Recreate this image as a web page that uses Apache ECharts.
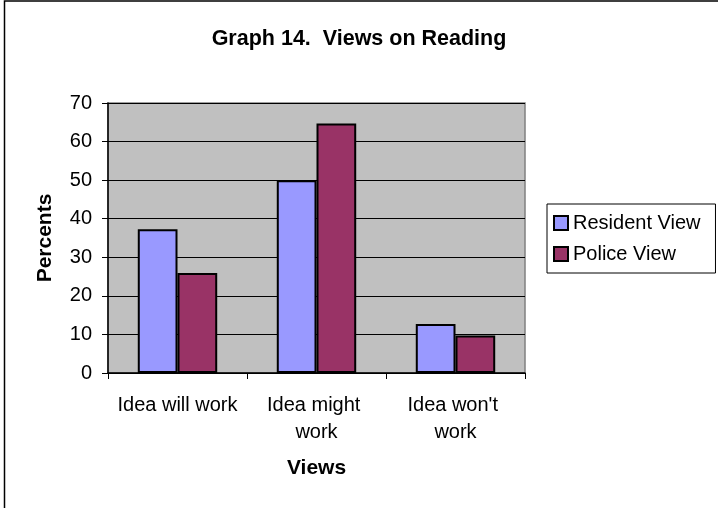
<!DOCTYPE html>
<html>
<head>
<meta charset="utf-8">
<script src="https://cdn.jsdelivr.net/npm/echarts@6/dist/echarts.min.js"></script>
<style>
  html, body { margin: 0; padding: 0; background: #fff; }
  #chart { width: 718px; height: 508px; }
</style>
</head>
<body>
<div id="chart"></div>
<script>
// Survey responses (percent of respondents)
const categories = ["Idea will work", "Idea might work", "Idea won't work"];
const residentView = [37.3, 50, 12.7];
const policeView = [25.9, 64.7, 9.7];
const yTicks = [0, 10, 20, 30, 40, 50, 60, 70];

const FONT = "Arial, 'Liberation Sans', sans-serif";

const chart = echarts.init(document.getElementById('chart'), null, { renderer: 'canvas' });

chart.setOption({
  animation: false,
  backgroundColor: '#ffffff',
  textStyle: { fontFamily: FONT, color: '#000' },
  title: {
    text: 'Graph 14.  Views on Reading',
    left: 'center',
    top: 28,
    padding: 0,
    textStyle: { fontFamily: FONT, fontSize: 21.5, fontWeight: 'bold', color: '#000' }
  },
  graphic: [{
    type: 'rect',
    shape: { x: 4.5, y: 1, width: 800, height: 600 },
    style: { fill: 'none', stroke: '#000', lineWidth: 1.5 },
    silent: true
  }],
  legend: {
    orient: 'vertical',
    left: 547,
    top: 204,
    padding: [8, 15, 8, 6],
    itemGap: 9,
    itemWidth: 14,
    itemHeight: 14,
    icon: 'rect',
    borderColor: '#000',
    borderWidth: 1,
    backgroundColor: '#fff',
    textStyle: { fontFamily: FONT, fontSize: 20, lineHeight: 22, color: '#000' },
    data: ['Resident View', 'Police View']
  },
  grid: {
    left: 108,
    right: 193,
    top: 103,
    bottom: 135,
    show: true,
    backgroundColor: '#C0C0C0',
    borderColor: '#808080',
    borderWidth: 1.5
  },
  xAxis: {
    type: 'category',
    data: categories,
    name: 'Views',
    nameLocation: 'middle',
    nameGap: 85,
    nameTextStyle: { fontFamily: FONT, fontSize: 21, fontWeight: 'bold', color: '#000' },
    axisLine: { lineStyle: { color: '#000', width: 1.5 } },
    axisTick: { show: true, length: 6, lineStyle: { color: '#000' } },
    axisLabel: {
      fontFamily: FONT,
      fontSize: 20,
      lineHeight: 27,
      color: '#000',
      margin: 19,
      interval: 0,
      width: 132,
      overflow: 'break'
    }
  },
  yAxis: {
    type: 'value',
    min: yTicks[0],
    max: yTicks[yTicks.length - 1],
    interval: 10,
    name: 'Percents',
    nameLocation: 'middle',
    nameRotate: 90,
    nameGap: 52,
    nameTextStyle: { fontFamily: FONT, fontSize: 21, fontWeight: 'bold', color: '#000' },
    axisLine: { show: true, lineStyle: { color: '#000', width: 1.5 } },
    axisTick: { show: true, length: 6, lineStyle: { color: '#000' } },
    axisLabel: { fontFamily: FONT, fontSize: 20, color: '#000', margin: 16 },
    splitLine: { show: true, lineStyle: { color: '#000', width: 1 } }
  },
  series: [
    {
      name: 'Resident View',
      type: 'bar',
      data: residentView,
      barGap: '0%',
      barCategoryGap: '42.86%',
      itemStyle: { color: '#9999FF', borderColor: '#000', borderWidth: 2 }
    },
    {
      name: 'Police View',
      type: 'bar',
      data: policeView,
      itemStyle: { color: '#993366', borderColor: '#000', borderWidth: 2 }
    }
  ]
});
</script>
</body>
</html>
